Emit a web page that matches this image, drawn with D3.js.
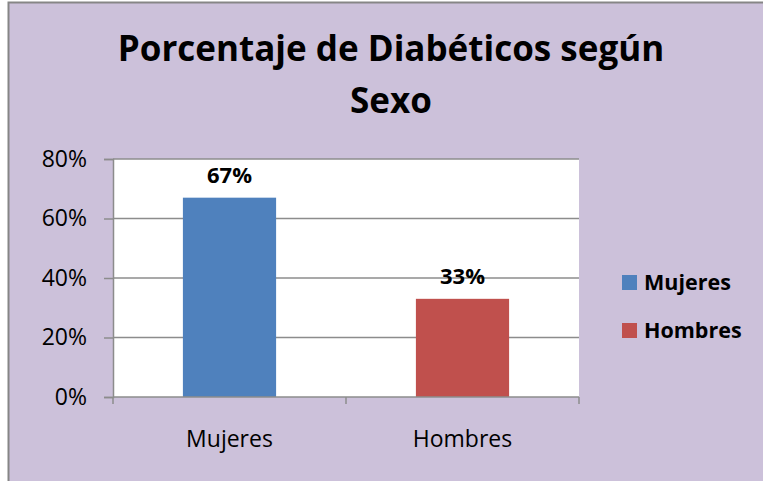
<!DOCTYPE html>
<html><head><meta charset="utf-8">
<script src="https://cdn.jsdelivr.net/npm/d3@7"></script>
<style>body{margin:0;background:#fff}svg{display:block}text{font-family:"Open Sans","Liberation Sans",sans-serif}</style>
</head><body><svg id="c" width="763" height="481"></svg>
<script>
const categories = ["Mujeres", "Hombres"];
const values = [0.67, 0.33];
const labels = ["67%", "33%"];
const colors = ["#4F81BD", "#C0504D"];
const yTicks = [0, 0.2, 0.4, 0.6, 0.8];
const titleLines = ["Porcentaje de Diabéticos según", "Sexo"];

const svg = d3.select("#c");
svg.append("rect").attr("x", 8.5).attr("y", 2.5).attr("width", 780).attr("height", 500)
  .attr("fill", "#CCC1DA").attr("stroke", "#868686").attr("stroke-width", 2);

const m = {l: 113, r: 579, t: 159, b: 397};
const x = d3.scaleBand().domain(categories).range([m.l, m.r]).paddingInner(0.6).paddingOuter(0.3);
const y = d3.scaleLinear().domain([0, 0.8]).range([m.b, m.t]);

svg.append("rect").attr("x", m.l).attr("y", m.t).attr("width", m.r - m.l).attr("height", m.b - m.t).attr("fill", "#fff");

// gridlines
svg.append("g").selectAll("line").data(yTicks.filter(d => d > 0)).join("line")
  .attr("x1", m.l).attr("x2", m.r).attr("y1", d => y(d)).attr("y2", d => y(d))
  .attr("stroke", "#8c8c8c").attr("stroke-width", 1.5);

// bars
svg.append("g").selectAll("rect").data(categories).join("rect")
  .attr("x", d => x(d)).attr("width", x.bandwidth())
  .attr("y", (d, i) => y(values[i])).attr("height", (d, i) => y(0) - y(values[i]))
  .attr("fill", (d, i) => colors[i]);

// y axis
const ya = svg.append("g").attr("transform", `translate(${m.l},0)`)
  .call(d3.axisLeft(y).tickValues(yTicks).tickFormat(d3.format(".0%")).tickSize(9).tickPadding(17));
ya.select(".domain").attr("stroke", "#8c8c8c").attr("stroke-width", 1.5);
ya.selectAll(".tick line").attr("stroke", "#8c8c8c").attr("stroke-width", 1.5);
ya.selectAll("text").attr("font-size", 23).attr("fill", "#000").attr("font-family", "Open Sans");

// x axis
const xa = svg.append("g").attr("transform", `translate(0,${m.b})`);
xa.append("line").attr("x1", m.l).attr("x2", m.r).attr("stroke", "#8c8c8c").attr("stroke-width", 1.5);
const step = (m.r - m.l) / categories.length;
xa.selectAll("line.t").data(d3.range(categories.length + 1)).join("line").attr("class", "t")
  .attr("x1", i => m.l + i * step).attr("x2", i => m.l + i * step).attr("y1", 0).attr("y2", 7)
  .attr("stroke", "#8c8c8c").attr("stroke-width", 1.5);
xa.selectAll("text").data(categories).join("text")
  .attr("x", d => x(d) + x.bandwidth() / 2).attr("y", 50).attr("text-anchor", "middle")
  .attr("font-size", 23).text(d => d);

// data labels
svg.append("g").selectAll("text").data(categories).join("text")
  .attr("x", d => x(d) + x.bandwidth() / 2).attr("y", (d, i) => y(values[i]) - 15)
  .attr("text-anchor", "middle").attr("font-size", 22).attr("font-weight", "bold").text((d, i) => labels[i]);

// title
svg.append("g").selectAll("text").data(titleLines).join("text")
  .attr("x", 391).attr("y", (d, i) => 61 + i * 52).attr("text-anchor", "middle")
  .attr("font-size", 35).attr("font-weight", "bold").text(d => d);

// legend
const lg = svg.append("g").selectAll("g").data(categories).join("g")
  .attr("transform", (d, i) => `translate(622,${275 + i * 48})`);
lg.append("rect").attr("width", 15).attr("height", 15).attr("fill", (d, i) => colors[i]);
lg.append("text").attr("x", 22).attr("y", 15).attr("font-size", 21.5).attr("font-weight", "bold").text(d => d);
</script></body></html>
